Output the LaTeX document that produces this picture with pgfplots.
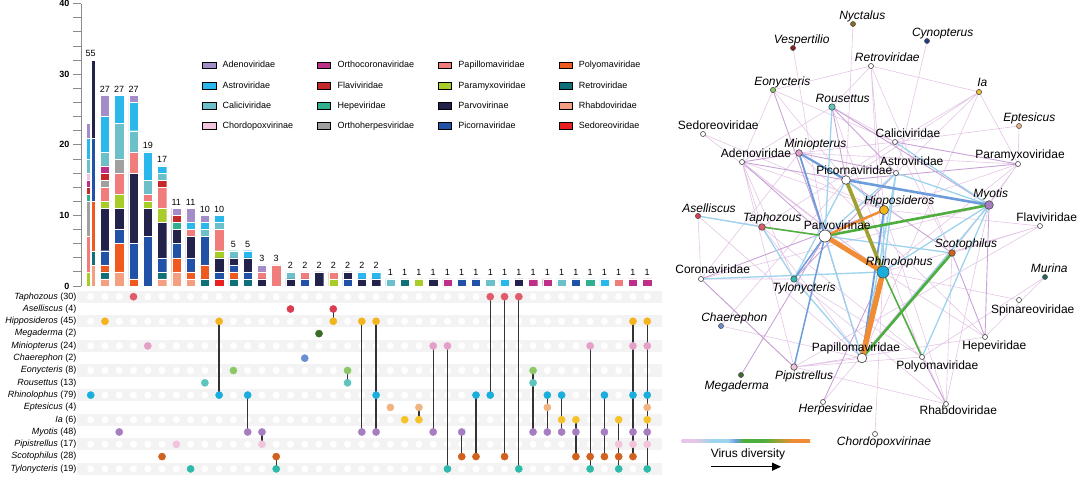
\documentclass[border=0pt]{standalone}
\usepackage{fontspec}
\setmainfont{Liberation Sans}
\usepackage{pgfplots}
\pgfplotsset{compat=1.18}
\usepackage{pgfplotstable}
\usetikzlibrary{arrows.meta}

% virus colours
\definecolor{cAdeno}{HTML}{A48CC8}
\definecolor{cAstro}{HTML}{2AB8EC}
\definecolor{cCalici}{HTML}{6CC0CA}
\definecolor{cChordo}{HTML}{F2C4DE}
\definecolor{cCorona}{HTML}{BE3088}
\definecolor{cFlavi}{HTML}{C42828}
\definecolor{cHepe}{HTML}{30B090}
\definecolor{cHerpes}{HTML}{A0A0A0}
\definecolor{cPapill}{HTML}{F07C7C}
\definecolor{cParamyxo}{HTML}{A8CC28}
\definecolor{cParvo}{HTML}{22224A}
\definecolor{cPicorna}{HTML}{2252A8}
\definecolor{cPolyoma}{HTML}{F05A1E}
\definecolor{cRetro}{HTML}{107078}
\definecolor{cRhabdo}{HTML}{F4A080}
\definecolor{cSedo}{HTML}{E82020}
% bat colours
\definecolor{bTaph}{HTML}{E05A6A}
\definecolor{bAsel}{HTML}{DC3C50}
\definecolor{bHippo}{HTML}{F2B51C}
\definecolor{bMega}{HTML}{3A6E28}
\definecolor{bMini}{HTML}{E4A0C8}
\definecolor{bChaer}{HTML}{6A8ED6}
\definecolor{bEon}{HTML}{8CC864}
\definecolor{bRou}{HTML}{5EC4BE}
\definecolor{bRhino}{HTML}{1AAEDC}
\definecolor{bEpt}{HTML}{F0B482}
\definecolor{bIa}{HTML}{F5C22A}
\definecolor{bMyotis}{HTML}{A67DC0}
\definecolor{bPipi}{HTML}{F2C4DC}
\definecolor{bScoto}{HTML}{D0621E}
\definecolor{bTylo}{HTML}{2EBAAA}
\definecolor{bNyc}{HTML}{8B6A1E}
\definecolor{bCyn}{HTML}{203C80}
\definecolor{bVes}{HTML}{8C1C1C}
\definecolor{bMurina}{HTML}{1E6A60}
% edge colours
\definecolor{ePale}{HTML}{E4C6E6}
\definecolor{eMid}{HTML}{C9A3D6}
\definecolor{eLBlue}{HTML}{9DD3EC}
\definecolor{eBlue}{HTML}{6C9CDA}
\definecolor{eGreen}{HTML}{4DAE3E}
\definecolor{eOlive}{HTML}{A2A033}
\definecolor{eOrange}{HTML}{F08C34}
\definecolor{band}{HTML}{F3F3F3}

% colours placed in 25bp..75bp, the part that covers the path
\pgfdeclarehorizontalshading{vdiv}{100bp}{color(0bp)=(ePale); color(31bp)=(ePale);
  color(36bp)=(eLBlue); color(43bp)=(eLBlue); color(46bp)=(eBlue); color(49bp)=(eGreen);
  color(57bp)=(eGreen); color(63bp)=(eOlive); color(68bp)=(eOrange); color(100bp)=(eOrange)}

% stacked bars, sets 1..39 (set 0 is split in two, below)
\pgfplotstableread{
x Sedo Rhabdo Retro Polyoma Picorna Parvo Paramyxo Papill Herpes Hepe Flavi Corona Chordo Calici Astro Adeno
1  0 1 1 1 2 6  1 2 1 0 1 1 0 2 5 3
2  0 2 0 4 2 3  2 3 2 0 0 0 0 5 4 0
3  0 0 0 1 5 10 0 3 0 0 0 0 0 3 4 1
4  0 0 0 0 7 4  1 1 0 0 0 0 0 2 4 0
5  0 1 1 0 2 5  2 3 0 0 1 0 0 1 1 0
6  0 2 0 2 2 2  0 0 0 1 1 0 0 0 0 1
7  0 1 0 1 2 3  0 1 0 0 0 0 0 0 1 2
8  0 0 1 2 4 0  0 0 0 0 0 0 0 1 1 1
9  1 0 0 0 1 2  1 3 0 0 0 0 0 1 1 0
10 0 0 1 1 1 1  0 0 0 0 0 0 0 1 0 0
11 0 0 1 0 1 2  0 0 0 0 0 0 0 0 1 0
12 0 0 0 0 0 1  0 1 0 0 0 0 0 0 0 1
13 0 0 0 0 0 0  0 3 0 0 0 0 0 0 0 0
14 0 0 0 0 0 1  0 0 0 0 0 0 0 1 0 0
15 0 0 0 0 1 0  0 1 0 0 0 0 0 0 0 0
16 0 0 0 0 0 2  0 0 0 0 0 0 0 0 0 0
17 0 0 0 0 0 0  1 1 0 0 0 0 0 0 0 0
18 0 0 0 0 1 1  0 0 0 0 0 0 0 0 0 0
19 0 0 0 0 0 1  0 0 0 0 0 0 0 0 1 0
20 0 0 0 0 0 1  0 0 0 0 0 0 0 0 1 0
21 0 0 0 0 0 0  0 0 0 0 0 0 0 1 0 0
22 0 0 1 0 0 0  0 0 0 0 0 0 0 0 0 0
23 0 0 0 0 0 0  1 0 0 0 0 0 0 0 0 0
24 0 0 0 0 0 1  0 0 0 0 0 0 0 0 0 0
25 0 0 0 0 0 0  0 0 0 0 0 1 0 0 0 0
26 0 0 0 0 1 0  0 0 0 0 0 0 0 0 0 0
27 0 0 0 0 1 0  0 0 0 0 0 0 0 0 0 0
28 0 0 0 0 0 0  0 0 0 0 0 0 0 1 0 0
29 0 0 0 0 0 0  0 0 0 0 0 0 0 0 1 0
30 0 0 0 0 0 1  0 0 0 0 0 0 0 0 0 0
31 0 0 0 0 0 0  0 0 0 0 0 1 0 0 0 0
32 0 0 0 0 0 0  0 0 0 0 0 1 0 0 0 0
33 0 0 0 0 0 0  0 0 0 0 0 0 0 1 0 0
34 0 0 0 0 1 0  0 0 0 0 0 0 0 0 0 0
35 0 0 0 0 0 0  0 0 0 1 0 0 0 0 0 0
36 0 0 0 0 0 0  0 0 0 0 0 0 0 0 1 0
37 0 0 0 0 0 0  0 1 0 0 0 0 0 0 0 0
38 0 0 0 0 0 0  0 0 0 0 0 1 0 0 0 0
39 0 0 0 0 0 0  0 0 0 0 0 1 0 0 0 0
}\bars

% set 0 (Rhinolophus only, 55) drawn as two half bars
\pgfplotstableread{
x Sedo Rhabdo Retro Polyoma Picorna Parvo Paramyxo Papill Herpes Hepe Flavi Corona Chordo Calici Astro Adeno
-0.165 0 0 0 0 0 0  2 5 5 1 1 1 1 2 3 2
0.165  0 3 2 7 9 11 0 0 0 0 0 0 0 0 0 0
}\barzero

\pgfplotstableread{
x y lab
0 32 55
1 27 27
2 27 27
3 27 27
4 19 19
5 17 17
6 11 11
7 11 11
8 10 10
9 10 10
10 5 5
11 5 5
12 3 3
13 3 3
14 2 2
15 2 2
16 2 2
17 2 2
18 2 2
19 2 2
20 2 2
21 1 1
22 1 1
23 1 1
24 1 1
25 1 1
26 1 1
27 1 1
28 1 1
29 1 1
30 1 1
31 1 1
32 1 1
33 1 1
34 1 1
35 1 1
36 1 1
37 1 1
38 1 1
39 1 1
}\totals

% column positions of the matrix (background dots)
\pgfplotstableread{
c d
0 0
1 0
2 0
3 0
4 0
5 0
6 0
7 0
8 0
9 0
10 0
11 0
12 0
13 0
14 0
15 0
16 0
17 0
18 0
19 0
20 0
21 0
22 0
23 0
24 0
25 0
26 0
27 0
28 0
29 0
30 0
31 0
32 0
33 0
34 0
35 0
36 0
37 0
38 0
39 0
}\colidx

\pgfplotsset{
  barax/.style={x=14.27pt, y=7.06pt, xmin=-0.68, xmax=39.6, ymin=0, ymax=40,
    scale only axis, clip=false, at={(81pt,193pt)}, anchor=south west},
  matax/.style={x=14.27pt, xmin=-0.68, xmax=39.6, y=12.3pt, ymin=-0.5, ymax=14.5, y dir=reverse,
    scale only axis, clip=false, at={(81pt,188.45pt)}, anchor=north west},
  stk/.style={fill=#1, draw=white, line width=0.3pt},
  dot/.style={only marks, mark=*, mark size=3.6pt, color=#1},
}
\newcommand\stackall[1]{%
  \addplot[stk=cSedo] table[x=x,y=Sedo]{#1};
  \addplot[stk=cRhabdo] table[x=x,y=Rhabdo]{#1};
  \addplot[stk=cRetro] table[x=x,y=Retro]{#1};
  \addplot[stk=cPolyoma] table[x=x,y=Polyoma]{#1};
  \addplot[stk=cPicorna] table[x=x,y=Picorna]{#1};
  \addplot[stk=cParvo] table[x=x,y=Parvo]{#1};
  \addplot[stk=cParamyxo] table[x=x,y=Paramyxo]{#1};
  \addplot[stk=cPapill] table[x=x,y=Papill]{#1};
  \addplot[stk=cHerpes] table[x=x,y=Herpes]{#1};
  \addplot[stk=cHepe] table[x=x,y=Hepe]{#1};
  \addplot[stk=cFlavi] table[x=x,y=Flavi]{#1};
  \addplot[stk=cCorona] table[x=x,y=Corona]{#1};
  \addplot[stk=cChordo] table[x=x,y=Chordo]{#1};
  \addplot[stk=cCalici] table[x=x,y=Calici]{#1};
  \addplot[stk=cAstro] table[x=x,y=Astro]{#1};
  \addplot[stk=cAdeno] table[x=x,y=Adeno]{#1};
}
\newcommand\vnode[3]{\addplot[only marks, mark=*, mark size=#3, mark options={fill=white, draw=black!75, line width=0.6pt}] coordinates {(#1,#2)};}
\newcommand\bnode[4]{\addplot[only marks, mark=*, mark size=#3, mark options={fill=#4, draw=black!70, line width=0.6pt}] coordinates {(#1,#2)};}
\newcommand\lab[3]{\node[anchor=base, inner sep=0pt, font=\fontsize{12}{14}\selectfont] at (axis cs:#1,#2) {#3};}

\begin{document}
\begin{tikzpicture}
\path[use as bounding box] (0,0) rectangle (1086pt,479pt);

% ---------- bars ----------
\begin{axis}[barax, ybar stacked, bar width=0.65,
  axis x line=none, axis y line*=left,
  y axis line style={draw=black!45, line width=0.8pt},
  ytick={0,10,20,30,40}, minor tick num=4,
  tick align=outside, major tick length=8pt, minor tick length=8pt,
  tick style={draw=black!45, line width=0.8pt},
  yticklabel style={font=\bfseries\fontsize{9}{10}\selectfont},
  /pgf/number format/assume math mode=true]
\stackall{\bars}
\end{axis}

\begin{axis}[barax, hide axis, ybar stacked, bar width=0.32]
\stackall{\barzero}
\end{axis}

\begin{axis}[barax, hide axis,
  legend columns=4, transpose legend, legend cell align=left,
  legend image code/.code={\fill[#1] (0pt,-3.3pt) rectangle (13.3pt,3.3pt); \path (18pt,0pt);},
  legend style={at={(0.2053,0.8106)}, anchor=north west, draw=none, fill=none,
    font=\fontsize{9}{11}\selectfont, row sep=8.2pt,
    /tikz/column 2/.style={column sep=22pt},
    /tikz/column 4/.style={column sep=22pt},
    /tikz/column 6/.style={column sep=31pt}}]
\addplot[draw=none, mark=none, forget plot, nodes near coords, point meta=explicit symbolic,
  nodes near coords style={font=\fontsize{9}{10}\selectfont, anchor=south, inner sep=3pt}]
  table[x=x, y=y, meta=lab]{\totals};
\addlegendimage{fill=cAdeno}\addlegendentry{Adenoviridae}
\addlegendimage{fill=cAstro}\addlegendentry{Astroviridae}
\addlegendimage{fill=cCalici}\addlegendentry{Caliciviridae}
\addlegendimage{fill=cChordo}\addlegendentry{Chordopoxvirinae}
\addlegendimage{fill=cCorona}\addlegendentry{Orthocoronaviridae}
\addlegendimage{fill=cFlavi}\addlegendentry{Flaviviridae}
\addlegendimage{fill=cHepe}\addlegendentry{Hepeviridae}
\addlegendimage{fill=cHerpes}\addlegendentry{Orthoherpesviridae}
\addlegendimage{fill=cPapill}\addlegendentry{Papillomaviridae}
\addlegendimage{fill=cParamyxo}\addlegendentry{Paramyxoviridae}
\addlegendimage{fill=cParvo}\addlegendentry{Parvovirinae}
\addlegendimage{fill=cPicorna}\addlegendentry{Picornaviridae}
\addlegendimage{fill=cPolyoma}\addlegendentry{Polyomaviridae}
\addlegendimage{fill=cRetro}\addlegendentry{Retroviridae}
\addlegendimage{fill=cRhabdo}\addlegendentry{Rhabdoviridae}
\addlegendimage{fill=cSedo}\addlegendentry{Sedoreoviridae}
\end{axis}

% ---------- membership matrix: background bands and empty dots ----------
\begin{axis}[matax, hide axis]
\pgfplotsinvokeforeach{0,2,...,14}{
  \fill[band] (axis cs:-0.96,#1-0.5) rectangle (axis cs:40.0,#1+0.5);
}
\pgfplotsinvokeforeach{0,2,...,14}{
  \addplot[only marks, mark=*, mark size=3.3pt, white] table[x=c, y expr=\thisrow{d}+#1]{\colidx};
}
\end{axis}

% ---------- membership matrix: links, dots and row names ----------
\begin{axis}[matax,
  axis line style={draw=none}, xtick=\empty, ytick={0,1,...,14}, ytick style={draw=none},
  yticklabel style={font=\fontsize{9}{11}\selectfont, xshift=-1pt},
  yticklabels={\textit{Taphozous} (30), \textit{Aselliscus} (4), \textit{Hipposideros} (45),
    \textit{Megaderma} (2), \textit{Miniopterus} (24), \textit{Chaerephon} (2),
    \textit{Eonycteris} (8), \textit{Rousettus} (13), \textit{Rhinolophus} (79),
    \textit{Eptesicus} (4), \textit{Ia} (6), \textit{Myotis} (48), \textit{Pipistrellus} (17),
    \textit{Scotophilus} (28), \textit{Tylonycteris} (19)}]
\addplot[black!80, line width=1.3pt, mark=none, unbounded coords=jump] coordinates {
  (9,2) (9,8) (nan,nan) (11,8) (11,11) (nan,nan) (12,11) (12,12) (nan,nan)
  (13,13) (13,14) (nan,nan) (17,1) (17,2) (nan,nan) (18,6) (18,7) (nan,nan)
  (19,2) (19,11) (nan,nan) (20,2) (20,11) (nan,nan) (23,9) (23,10) (nan,nan)
  (24,4) (24,11) (nan,nan) (25,4) (25,14) (nan,nan) (26,11) (26,13) (nan,nan)
  (27,8) (27,13) (nan,nan) (28,0) (28,8) (nan,nan) (29,0) (29,13) (nan,nan)
  (30,0) (30,14) (nan,nan) (31,6) (31,11) (nan,nan) (32,8) (32,11) (nan,nan)
  (33,8) (33,11) (nan,nan) (34,10) (34,13) (nan,nan) (35,4) (35,14) (nan,nan)
  (36,8) (36,13) (nan,nan) (37,10) (37,14) (nan,nan) (38,2) (38,13) (nan,nan)
  (39,2) (39,14)};
\addplot[dot=bTaph] coordinates {(3,0) (28,0) (29,0) (30,0)};
\addplot[dot=bAsel] coordinates {(14,1) (17,1)};
\addplot[dot=bHippo] coordinates {(1,2) (9,2) (17,2) (19,2) (20,2) (38,2) (39,2)};
\addplot[dot=bMega] coordinates {(16,3)};
\addplot[dot=bMini] coordinates {(4,4) (24,4) (25,4) (35,4) (38,4) (39,4)};
\addplot[dot=bChaer] coordinates {(15,5)};
\addplot[dot=bEon] coordinates {(10,6) (18,6) (31,6)};
\addplot[dot=bRou] coordinates {(8,7) (18,7) (31,7)};
\addplot[dot=bRhino] coordinates {(0,8) (9,8) (11,8) (20,8) (27,8) (28,8) (32,8) (33,8) (36,8) (38,8) (39,8)};
\addplot[dot=bEpt] coordinates {(21,9) (23,9) (32,9) (39,9)};
\addplot[dot=bIa] coordinates {(22,10) (23,10) (33,10) (34,10) (37,10) (39,10)};
\addplot[dot=bMyotis] coordinates {(2,11) (11,11) (12,11) (19,11) (20,11) (24,11) (26,11) (31,11) (32,11) (33,11) (34,11) (36,11) (38,11) (39,11)};
\addplot[dot=bPipi] coordinates {(6,12) (12,12) (37,12) (38,12) (39,12)};
\addplot[dot=bScoto] coordinates {(5,13) (13,13) (26,13) (27,13) (29,13) (34,13) (35,13) (36,13) (37,13) (38,13)};
\addplot[dot=bTylo] coordinates {(7,14) (13,14) (25,14) (30,14) (35,14) (37,14) (39,14)};
\end{axis}

% ---------- network ----------
\begin{axis}[x=1pt, y=1pt, xmin=670, xmax=1086, ymin=0, ymax=479, y dir=reverse,
  scale only axis, hide axis, clip=false, at={(670pt,479pt)}, anchor=north west]
\addplot[ePale, line width=0.6pt, unbounded coords=jump] coordinates {
 (853,24) (846,180) (nan,nan) (927,41) (896,173) (nan,nan) (793,48) (825,236) (nan,nan)
 (871,66) (773,90) (nan,nan) (871,66) (979,92) (nan,nan) (871,66) (832,107) (nan,nan)
 (871,66) (884,210) (nan,nan) (871,66) (952,253) (nan,nan) (871,66) (883,272) (nan,nan)
 (773,90) (742,162) (nan,nan) (773,90) (846,180) (nan,nan) (773,90) (895,142) (nan,nan)
 (979,92) (896,173) (nan,nan) (979,92) (846,180) (nan,nan) (979,92) (895,142) (nan,nan)
 (979,92) (862,358) (nan,nan) (979,92) (1018,164) (nan,nan) (832,107) (895,142) (nan,nan)
 (832,107) (742,162) (nan,nan) (832,107) (922,357) (nan,nan) (1019,126) (1018,164) (nan,nan)
 (1019,126) (895,142) (nan,nan) (703,134) (884,210) (nan,nan) (703,134) (883,272) (nan,nan)
 (799,153) (895,142) (nan,nan) (799,153) (1018,164) (nan,nan) (799,153) (985,337) (nan,nan)
 (799,153) (701,279) (nan,nan) (742,162) (762,227) (nan,nan) (742,162) (884,210) (nan,nan)
 (742,162) (883,272) (nan,nan) (742,162) (794,367) (nan,nan) (742,162) (794,279) (nan,nan)
 (1018,164) (989,205) (nan,nan) (1018,164) (884,210) (nan,nan) (1018,164) (883,272) (nan,nan)
 (1018,164) (952,253) (nan,nan) (989,205) (823,402) (nan,nan) (989,205) (946,404) (nan,nan)
 (989,205) (701,279) (nan,nan) (884,210) (1040,226) (nan,nan) (884,210) (946,404) (nan,nan)
 (698,216) (825,236) (nan,nan) (698,216) (862,358) (nan,nan) (762,227) (895,142) (nan,nan)
 (762,227) (922,357) (nan,nan) (762,227) (862,358) (nan,nan) (1040,226) (883,272) (nan,nan)
 (1040,226) (952,253) (nan,nan) (1040,226) (794,367) (nan,nan) (952,253) (895,142) (nan,nan)
 (952,253) (946,404) (nan,nan) (883,272) (1019,300) (nan,nan) (883,272) (985,337) (nan,nan)
 (883,272) (946,404) (nan,nan) (883,272) (875,434) (nan,nan) (701,279) (794,279) (nan,nan)
 (701,279) (794,367) (nan,nan) (794,279) (946,404) (nan,nan) (794,279) (922,357) (nan,nan)
 (1045,277) (922,357) (nan,nan) (721,326) (846,180) (nan,nan) (721,326) (862,358) (nan,nan)
 (794,367) (862,358) (nan,nan) (794,367) (922,357) (nan,nan) (794,367) (946,404) (nan,nan)
 (794,367) (985,337) (nan,nan) (1045,277) (985,337) (nan,nan) (698,216) (701,279)};
\addplot[eMid, line width=0.9pt, unbounded coords=jump] coordinates {
 (773,90) (825,236) (nan,nan) (832,107) (846,180) (nan,nan) (832,107) (896,173) (nan,nan)
 (832,107) (989,205) (nan,nan) (799,153) (742,162) (nan,nan) (799,153) (896,173) (nan,nan)
 (799,153) (862,358) (nan,nan) (742,162) (825,236) (nan,nan) (742,162) (989,205) (nan,nan)
 (895,142) (1018,164) (nan,nan) (1018,164) (846,180) (nan,nan) (989,205) (985,337) (nan,nan)
 (952,253) (846,180) (nan,nan) (794,279) (896,173) (nan,nan) (884,210) (701,279) (nan,nan)
 (883,272) (823,402) (nan,nan) (952,253) (985,337) (nan,nan) (741,375) (825,236) (nan,nan)
 (701,279) (794,367) (nan,nan) (922,357) (946,404)};
\addplot[eLBlue, line width=1.3pt, unbounded coords=jump] coordinates {
 (832,107) (825,236) (nan,nan) (698,216) (762,227) (nan,nan) (701,279) (883,272) (nan,nan)
 (895,142) (989,205) (nan,nan) (896,173) (883,272) (nan,nan) (896,173) (862,358) (nan,nan)
 (896,173) (825,236) (nan,nan) (884,210) (883,272) (nan,nan) (989,205) (883,272) (nan,nan)
 (989,205) (862,358) (nan,nan) (989,205) (922,357) (nan,nan) (825,236) (862,358) (nan,nan)
 (794,279) (862,358) (nan,nan) (846,180) (794,279) (nan,nan) (846,180) (884,210) (nan,nan)
 (896,173) (989,205) (nan,nan) (762,227) (794,279) (nan,nan) (825,236) (952,253)};
\addplot[eBlue, line width=2.6pt] coordinates {(846,180) (989,205)};
\addplot[eBlue, line width=2.2pt] coordinates {(799,153) (846,180)};
\addplot[eBlue, line width=1.8pt] coordinates {(799,153) (825,236)};
\addplot[eBlue, line width=1.8pt] coordinates {(884,210) (862,358)};
\addplot[eBlue, line width=1.5pt] coordinates {(825,236) (794,279)};
\addplot[eBlue, line width=1.5pt] coordinates {(825,236) (794,367)};
\addplot[eGreen, line width=2.6pt] coordinates {(825,236) (989,205)};
\addplot[eGreen, line width=1.5pt] coordinates {(762,227) (825,236)};
\addplot[eGreen, line width=2.6pt] coordinates {(952,253) (862,358)};
\addplot[eGreen, line width=1.5pt] coordinates {(883,272) (922,357)};
\addplot[eOlive, line width=3.6pt] coordinates {(846,180) (883,272)};
\addplot[eOrange, line width=2.4pt] coordinates {(825,236) (884,210)};
\addplot[eOrange, line width=5pt] coordinates {(825,236) (883,272)};
\addplot[eOrange, line width=5.5pt] coordinates {(883,272) (862,358)};
% virus nodes
\vnode{871}{66}{2.5pt} \vnode{703}{134}{2.5pt} \vnode{895}{142}{2.5pt}
\vnode{742}{162}{2.5pt} \vnode{1018}{164}{2.5pt} \vnode{896}{173}{2.5pt}
\vnode{1040}{226}{2.5pt} \vnode{701}{279}{2.5pt} \vnode{1019}{300}{2.5pt}
\vnode{985}{337}{2.5pt} \vnode{922}{357}{2.5pt} \vnode{823}{402}{2.5pt}
\vnode{946}{404}{2.5pt} \vnode{875}{434}{2.5pt}
\vnode{846}{180}{4.3pt} \vnode{862}{358}{4.8pt} \vnode{825}{236}{6pt}
% bat nodes
\bnode{853}{24}{2.5pt}{bNyc} \bnode{927}{41}{2.5pt}{bCyn} \bnode{793}{48}{2.5pt}{bVes}
\bnode{773}{90}{2.6pt}{bEon} \bnode{979}{92}{2.6pt}{bIa} \bnode{832}{107}{3.2pt}{bRou}
\bnode{1019}{126}{2.5pt}{bEpt} \bnode{799}{153}{3.3pt}{bMini} \bnode{989}{205}{4.3pt}{bMyotis}
\bnode{884}{210}{4.5pt}{bHippo} \bnode{698}{216}{2.6pt}{bAsel} \bnode{762}{227}{3.3pt}{bTaph}
\bnode{952}{253}{3.3pt}{bScoto} \bnode{883}{272}{6pt}{bRhino} \bnode{794}{279}{3.2pt}{bTylo}
\bnode{1045}{277}{2.5pt}{bMurina} \bnode{721}{326}{2.5pt}{bChaer} \bnode{794}{367}{3.2pt}{bPipi}
\bnode{741}{375}{2.5pt}{bMega}
% labels
\lab{862.3}{19.7}{\textit{Nyctalus}}
\lab{942.7}{36.7}{\textit{Cynopterus}}
\lab{801.7}{43.3}{\textit{Vespertilio}}
\lab{887.3}{61.3}{\textit{Retroviridae}}
\lab{782.3}{85.7}{\textit{Eonycteris}}
\lab{982.3}{86.7}{\textit{Ia}}
\lab{842.7}{102.3}{\textit{Rousettus}}
\lab{1029.3}{121.3}{\textit{Eptesicus}}
\lab{718.3}{129.3}{Sedoreoviridae}
\lab{908}{137.3}{Caliciviridae}
\lab{815.3}{147.3}{\textit{Miniopterus}}
\lab{756}{157.7}{Adenoviridae}
\lab{1020}{158.7}{Paramyxoviridae}
\lab{911.7}{165.7}{Astroviridae}
\lab{854.3}{174.7}{Picornaviridae}
\lab{990.7}{197.3}{\textit{Myotis}}
\lab{899.3}{204.3}{\textit{Hipposideros}}
\lab{709}{212}{\textit{Aselliscus}}
\lab{1046.7}{221.3}{Flaviviridae}
\lab{772.3}{221.3}{\textit{Taphozous}}
\lab{837.3}{229.3}{Parvovirinae}
\lab{966}{247.3}{\textit{Scotophilus}}
\lab{899.3}{265}{\textit{Rhinolophus}}
\lab{712.7}{273.3}{Coronaviridae}
\lab{1049.3}{272.3}{\textit{Murina}}
\lab{804}{291.3}{\textit{Tylonycteris}}
\lab{1032.7}{313}{Spinareoviridae}
\lab{734.3}{321.3}{\textit{Chaerephon}}
\lab{994.3}{349.7}{Hepeviridae}
\lab{856}{351.7}{Papillomaviridae}
\lab{937.3}{369}{Polyomaviridae}
\lab{804}{379.3}{\textit{Pipistrellus}}
\lab{736.7}{389}{\textit{Megaderma}}
\lab{835.7}{412.3}{\textit{Herpesviridae}}
\lab{958.3}{414.3}{Rhabdoviridae}
\lab{884}{445.7}{\textit{Chordopoxvirinae}}
% diversity key
\shade[shading=vdiv] (axis cs:681.7,439.2) rectangle (axis cs:810,442.4);
\lab{748}{457}{Virus diversity}
\draw[-{Triangle[length=9pt,width=8pt]}, line width=1.3pt] (axis cs:710.7,466.7) -- (axis cs:781,466.7);
\end{axis}
\end{tikzpicture}
\end{document}
